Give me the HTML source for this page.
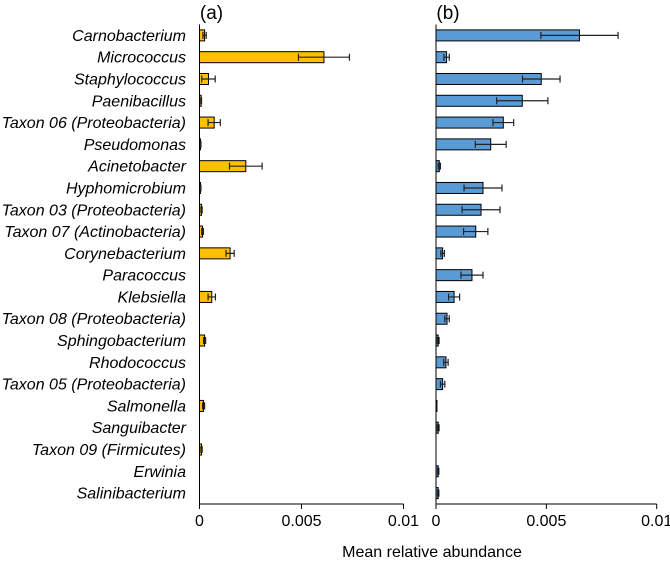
<!DOCTYPE html>
<html><head><meta charset="utf-8"><style>
html,body{margin:0;padding:0;background:#fff;}
svg text{font-family:"Liberation Sans",sans-serif;fill:#000;}
</style></head><body>
<svg id="chart" width="670" height="560" viewBox="0 0 670 560" xmlns="http://www.w3.org/2000/svg"></svg>
<script>
const categories=["Carnobacterium","Micrococcus","Staphylococcus","Paenibacillus","Taxon 06 (Proteobacteria)","Pseudomonas","Acinetobacter","Hyphomicrobium","Taxon 03 (Proteobacteria)","Taxon 07 (Actinobacteria)","Corynebacterium","Paracoccus","Klebsiella","Taxon 08 (Proteobacteria)","Sphingobacterium","Rhodococcus","Taxon 05 (Proteobacteria)","Salmonella","Sanguibacter","Taxon 09 (Firmicutes)","Erwinia","Salinibacterium"];
const valuesA=[0.00025,0.0061,0.00044,0.00008,0.00072,0.00005,0.00227,0.00005,0.0001,0.00015,0.0015,0,0.0006,0,0.00025,0,0,0.0002,0,0.0001,0,0];
const errorsA=[0.00008,0.00125,0.00033,0.00002,0.0003,0.00002,0.0008,0.00002,0.00003,0.00004,0.0002,0,0.00018,0,0.00005,0,0,0.00005,0,0.00003,0,0];
const valuesB=[0.0065,0.00048,0.00477,0.00391,0.00305,0.00248,0.00015,0.00213,0.00204,0.0018,0.0003,0.00163,0.00082,0.0005,0.0001,0.00045,0.0003,0.00003,0.0001,0,0.0001,0.0001];
const errorsB=[0.00175,0.00012,0.00085,0.00116,0.00047,0.0007,0.00005,0.00086,0.00086,0.00055,0.00008,0.0005,0.00025,0.0001,0.00004,0.0001,0.0001,0.00001,0.00004,0,0.00003,0.00003];
const tickValues=[0,0.005,0.01];
const tickLabels=["0","0.005","0.01"];
const panelLabels=["(a)","(b)"];

const NS="http://www.w3.org/2000/svg";
const svg=document.getElementById('chart');
function mk(tag,attrs,parent){const e=document.createElementNS(NS,tag);for(const k in attrs)e.setAttribute(k,attrs[k]);(parent||svg).appendChild(e);return e;}
const top0=24.5, axisY=504, n=categories.length;
const step=(axisY-top0)/n;
function yPos(i){return top0+step*(i+0.5);}
const panels=[{x0:199.5,w:204,vals:valuesA,errs:errorsA,fill:"#ffc000",name:"a"},{x0:436,w:220.7,vals:valuesB,errs:errorsB,fill:"#5b9bd5",name:"b"}];

categories.forEach((c,i)=>{
  const t=mk('text',{x:186,y:yPos(i)+5.5,'text-anchor':'end','font-size':'16','font-style':'italic'});
  
  
  t.textContent=c;
});

panels.forEach((p,pi)=>{
  const xs=v=>p.x0+v/0.01*p.w;
  const g=mk('g',{});
  
  
  p.vals.forEach((v,i)=>{
    const y=yPos(i);
    if(v>0){
      const r=mk('rect',{x:p.x0,y:y-5.5,width:Math.max(xs(v)-p.x0,1),height:11,fill:p.fill,stroke:'#000','stroke-width':1},g);
      
      
      const e=p.errs[i];
      if(e>0){
        const x1=xs(v-e),x2=xs(v+e);
        const eb=mk('path',{d:`M${x1},${y}H${x2}M${x1},${y-3.5}V${y+3.5}M${x2},${y-3.5}V${y+3.5}`,stroke:'#222','stroke-width':1.2,fill:'none'},g);
        
        
      }
    }
  });
  const ax=mk('path',{d:`M${p.x0},${top0}V${axisY}H${p.x0+p.w}`,stroke:'#000','stroke-width':1,fill:'none'},g);
  
  
  tickValues.forEach((tv,k)=>{
    const x=xs(tv);
    mk('line',{x1:x,x2:x,y1:axisY,y2:axisY+5,stroke:'#000'},g);
    const t=mk('text',{x:x,y:axisY+22,'text-anchor':'middle','font-size':'16'},g);
    
    
    t.textContent=tickLabels[k];
  });
  const pl=mk('text',{x:p.x0+12,y:19,'text-anchor':'middle','font-size':'19'},g);
  
  
  pl.textContent=panelLabels[pi];
});
const xt=mk('text',{x:432,y:557,'text-anchor':'middle','font-size':'16'});


xt.textContent="Mean relative abundance";
</script>
</body></html>
